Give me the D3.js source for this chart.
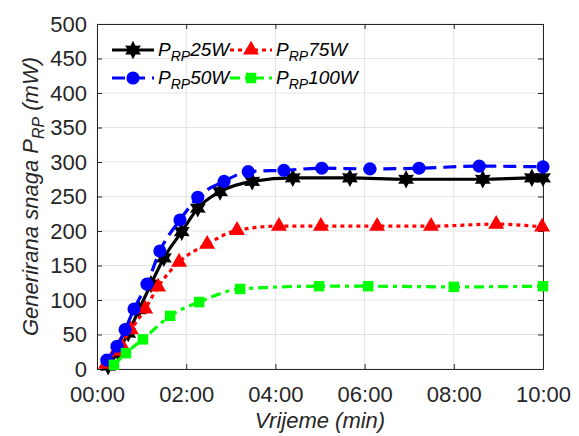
<!DOCTYPE html>
<html><head><meta charset="utf-8">
<script src="https://cdn.jsdelivr.net/npm/d3@7"></script>
<style>body{margin:0;background:#fff}svg{display:block;font-family:"Liberation Sans",Arial,sans-serif}</style>
</head><body><svg id="c" width="579" height="436"></svg>
<script>
// ---- data (time in minutes, power in mW) ----
const xTicks = [0, 2, 4, 6, 8, 10];
const xTickLabels = ["00:00", "02:00", "04:00", "06:00", "08:00", "10:00"];
const yTicks = [0, 50, 100, 150, 200, 250, 300, 350, 400, 450, 500];

const t25 = [0.25, 0.47, 0.70, 0.94, 1.21, 1.50, 1.90, 2.26, 2.76, 3.48, 4.39, 5.67, 6.93, 8.65, 9.75, 10.0];
const p25 = [4, 25, 52, 86, 123, 161, 199, 233, 257, 272, 277, 277, 275, 275, 277, 277];

const t50 = [0.22, 0.45, 0.63, 0.83, 1.12, 1.41, 1.86, 2.26, 2.85, 3.39, 4.19, 5.04, 6.12, 7.22, 8.57, 10.0];
const p50 = [13, 33, 57, 87, 123, 171, 216, 249, 272, 286, 288, 291, 290, 291, 294, 293];

const t75 = [0.20, 0.43, 0.54, 0.76, 1.08, 1.37, 1.84, 2.47, 3.14, 4.08, 5.02, 6.28, 7.49, 8.95, 9.98];
const p75 = [7, 26, 36, 57, 87, 119, 155, 181, 201, 207, 207, 207, 207, 210, 206];

const t100 = [0.38, 0.65, 1.03, 1.64, 2.29, 3.21, 4.98, 6.08, 8.00, 10.0];
const p100 = [6, 23, 43, 77, 97, 116, 120, 120, 119, 120];

const seriesNames = ["25W", "50W", "75W", "100W"];

// ---- layout ----
const svg = d3.select("#c");
const L = 97, R = 543, T = 24, B = 369;
const x = d3.scaleLinear().domain([0, 10]).range([L, R]);
const y = d3.scaleLinear().domain([0, 500]).range([B, T]);

// grid
const grid = svg.append("g");
grid.selectAll(".gx").data(xTicks).enter().append("line")
  .attr("x1", d => x(d)).attr("x2", d => x(d)).attr("y1", T).attr("y2", B)
  .attr("stroke", "#e3e3e3").attr("stroke-width", 1);
grid.selectAll(".gy").data(yTicks).enter().append("line")
  .attr("x1", L).attr("x2", R).attr("y1", d => y(d)).attr("y2", d => y(d))
  .attr("stroke", "#e3e3e3").attr("stroke-width", 1);

// axes
const axCol = "#262626";
const xAx = svg.append("g").attr("transform", `translate(0,${B})`)
  .call(d3.axisBottom(x).tickValues(xTicks).tickFormat((d, i) => xTickLabels[i]).tickSizeInner(-5).tickSizeOuter(0).tickPadding(17));
const yAx = svg.append("g").attr("transform", `translate(${L},0)`)
  .call(d3.axisLeft(y).tickValues(yTicks).tickSizeInner(-5).tickSizeOuter(0).tickPadding(10));
[xAx, yAx].forEach(a => {
  a.select(".domain").attr("stroke", axCol);
  a.selectAll(".tick line").attr("stroke", axCol);
  a.selectAll(".tick text").attr("fill", axCol).attr("font-size", 22).attr("font-family", '"Liberation Sans",Arial,sans-serif');
});
// box top/right
svg.append("g").attr("transform", `translate(${R},0)`)
  .call(d3.axisRight(y).tickValues(yTicks).tickSizeInner(-5).tickSizeOuter(0).tickFormat(""))
  .call(g => { g.select(".domain").attr("stroke", axCol); g.selectAll(".tick line").attr("stroke", axCol); });
svg.append("g").attr("transform", `translate(0,${T})`)
  .call(d3.axisTop(x).tickValues(xTicks).tickSizeInner(-5).tickSizeOuter(0).tickFormat(""))
  .call(g => { g.select(".domain").attr("stroke", axCol); g.selectAll(".tick line").attr("stroke", axCol); });

// axis labels
svg.append("text").attr("x", (L + R) / 2).attr("y", 428).attr("text-anchor", "middle")
  .attr("font-size", 22).attr("font-style", "italic").attr("fill", axCol).text("Vrijeme (min)");
const yl = svg.append("text").attr("transform", `translate(38,${(T + B) / 2}) rotate(-90)`)
  .attr("text-anchor", "middle").attr("font-size", 22).attr("font-style", "italic").attr("fill", axCol);
yl.append("tspan").text("Generirana snaga P");
yl.append("tspan").attr("font-size", 16).attr("dy", 6).text("RP");
yl.append("tspan").attr("dy", -6).text(" (mW)");

// marker symbols
const hexStar = {
  draw(ctx, size) {
    const r = Math.sqrt(size) * 0.75, ri = r * 0.55;
    for (let i = 0; i < 12; i++) {
      const a = -Math.PI / 2 + i * Math.PI / 6, rr = i % 2 ? ri : r;
      const px = rr * Math.cos(a), py = rr * Math.sin(a);
      i ? ctx.lineTo(px, py) : ctx.moveTo(px, py);
    }
    ctx.closePath();
  }
};
const styles = [
  { t: t25, p: p25, color: "#000000", dash: null, sym: hexStar, size: 150 },
  { t: t50, p: p50, color: "#0000ff", dash: "13,7", sym: d3.symbolCircle, size: 135 },
  { t: t75, p: p75, color: "#ff0000", dash: "4,4", sym: d3.symbolTriangle, size: 110 },
  { t: t100, p: p100, color: "#00ff00", dash: "10,5,4,5", sym: d3.symbolSquare, size: 110 }
];
const order = [0, 2, 1, 3];
const line = d3.line().x(d => x(d[0])).y(d => y(d[1])).curve(d3.curveMonotoneX);
order.forEach(k => {
  const s = styles[k];
  const pts = s.t.map((t, i) => [t, s.p[i]]);
  const g = svg.append("g");
  g.append("path").datum(pts).attr("d", line).attr("fill", "none")
    .attr("stroke", s.color).attr("stroke-width", 3.2).attr("stroke-dasharray", s.dash);
  g.selectAll("path.m").data(pts).enter().append("path").attr("class", "m")
    .attr("transform", d => `translate(${x(d[0])},${y(d[1])})`)
    .attr("d", d3.symbol().type(s.sym).size(s.size)).attr("fill", s.color);
});

// legend
const legPos = [
  { lx: 112, ly: 50 }, { lx: 112, ly: 78 }, { lx: 230, ly: 50 }, { lx: 230, ly: 78 }
];
styles.forEach((s, k) => {
  const p = legPos[k];
  const g = svg.append("g");
  g.append("line").attr("x1", p.lx).attr("x2", p.lx + 42).attr("y1", p.ly).attr("y2", p.ly)
    .attr("stroke", s.color).attr("stroke-width", 3.2).attr("stroke-dasharray", s.dash);
  g.append("path").attr("transform", `translate(${p.lx + 21},${p.ly})`)
    .attr("d", d3.symbol().type(s.sym).size(s.size)).attr("fill", s.color);
  const tx = g.append("text").attr("x", p.lx + 46).attr("y", p.ly + 6).attr("font-size", 19)
    .attr("font-style", "italic").attr("fill", "#000");
  tx.append("tspan").text("P");
  tx.append("tspan").attr("font-size", 14).attr("dy", 5).text("RP");
  tx.append("tspan").attr("dy", -5).text(seriesNames[k]);
});
</script></body></html>
